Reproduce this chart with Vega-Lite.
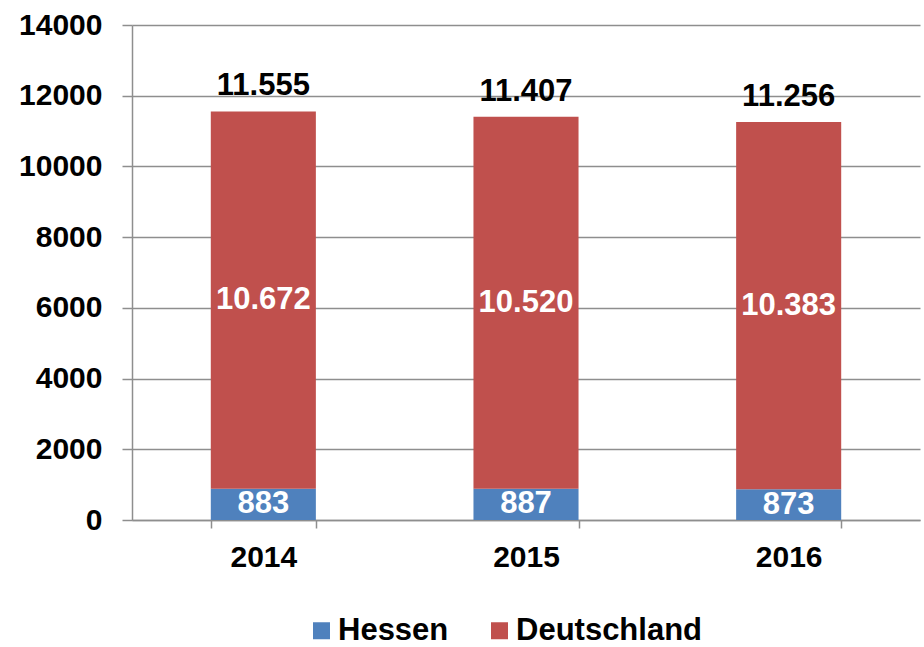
{
  "$schema": "https://vega.github.io/schema/vega-lite/v6.json",
  "width": 788,
  "height": 495,
  "autosize": "none",
  "padding": {"left": 132, "top": 25, "right": 4, "bottom": 127},
  "config": {
    "locale": {"number": {"decimal": ",", "thousands": ".", "grouping": [3], "currency": ["", " €"]}},
    "view": {"stroke": null},
    "font": "Liberation Sans",
    "background": "white"
  },
  "data": {
    "values": [
      {"year": "2014", "region": "Hessen", "value": 883},
      {"year": "2014", "region": "Deutschland", "value": 10672},
      {"year": "2015", "region": "Hessen", "value": 887},
      {"year": "2015", "region": "Deutschland", "value": 10520},
      {"year": "2016", "region": "Hessen", "value": 873},
      {"year": "2016", "region": "Deutschland", "value": 10383}
    ]
  },
  "layer": [
    {
      "transform": [
        {"stack": "value", "groupby": ["year"], "sort": [{"field": "region", "order": "descending"}], "as": ["y0", "y1"]}
      ],
      "mark": {"type": "bar"},
      "encoding": {
        "x": {
          "field": "year", "type": "nominal",
          "scale": {"paddingInner": 0.6, "paddingOuter": 0.3},
          "axis": {
            "title": null, "labelAngle": 0, "tickBand": "extent", "tickSize": 8,
            "tickColor": "#8e8e8e", "domainColor": "#8e8e8e", "tickWidth": 1.5, "domainWidth": 1.5,
            "labelFontSize": 30, "labelFontWeight": "bold", "labelColor": "black", "labelPadding": 14,
            "grid": false
          }
        },
        "y": {
          "field": "y1", "type": "quantitative",
          "scale": {"domain": [0, 14000], "nice": false},
          "axis": {
            "title": null, "values": [0, 2000, 4000, 6000, 8000, 10000, 12000, 14000], "format": "d",
            "labelFontSize": 30, "labelFontWeight": "bold", "labelColor": "black",
            "tickSize": 10, "labelPadding": 20, "tickColor": "#8e8e8e", "domainColor": "#8e8e8e",
            "gridColor": "#8e8e8e", "grid": true, "gridWidth": 1.5, "tickWidth": 1.5, "domainWidth": 1.5
          }
        },
        "y2": {"field": "y0"},
        "color": {
          "field": "region", "type": "nominal",
          "scale": {"domain": ["Hessen", "Deutschland"], "range": ["#4F81BD", "#C0504D"]},
          "legend": {
            "title": null, "orient": "none", "direction": "horizontal", "legendX": 174, "legendY": 590,
            "symbolType": "square", "symbolSize": 289, "symbolStrokeWidth": 0,
            "labelFontSize": 31, "labelFontWeight": "bold", "labelColor": "black", "labelLimit": 500,
            "labelOffset": 1, "columnPadding": 35, "padding": 0
          }
        }
      }
    },
    {
      "transform": [
        {"stack": "value", "groupby": ["year"], "sort": [{"field": "region", "order": "descending"}], "as": ["y0", "y1"]},
        {"calculate": "(datum.y0 + datum.y1) / 2", "as": "ymid"}
      ],
      "mark": {"type": "text", "color": "white", "fontSize": 31, "fontWeight": "bold", "baseline": "middle"},
      "encoding": {
        "x": {"field": "year", "type": "nominal"},
        "y": {"field": "ymid", "type": "quantitative"},
        "text": {"field": "value", "type": "quantitative", "format": ",d"}
      }
    },
    {
      "transform": [
        {"aggregate": [{"op": "sum", "field": "value", "as": "total"}], "groupby": ["year"]}
      ],
      "mark": {"type": "text", "color": "black", "fontSize": 31, "fontWeight": "bold", "baseline": "alphabetic", "dy": -16},
      "encoding": {
        "x": {"field": "year", "type": "nominal"},
        "y": {"field": "total", "type": "quantitative"},
        "text": {"field": "total", "type": "quantitative", "format": ",d"}
      }
    }
  ]
}
